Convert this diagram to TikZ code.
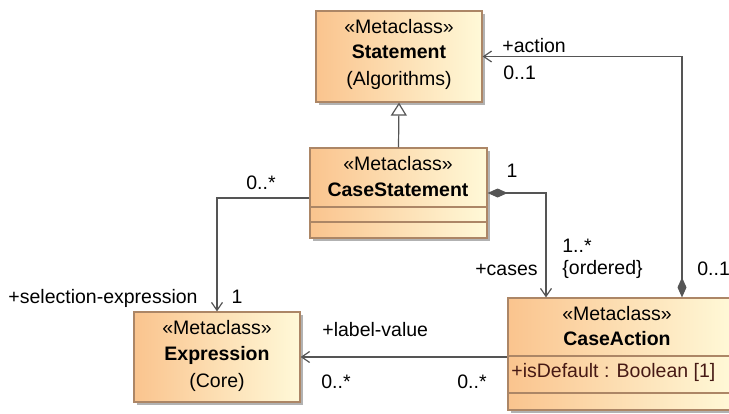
\documentclass[tikz,border=0pt]{standalone}
\usepackage{fontspec}
\setmainfont{Liberation Sans}
\usetikzlibrary{arrows.meta,shadows}
\definecolor{mdorange}{RGB}{250,196,142}
\definecolor{mdcream}{RGB}{255,249,216}
\definecolor{mdborder}{RGB}{172,134,102}
\definecolor{mdline}{RGB}{85,85,85}
\definecolor{mdattr}{RGB}{70,25,20}
\begin{document}
\begin{tikzpicture}[x=0.5pt,y=-0.5pt,
    every node/.style={font=\fontsize{9.75}{11}\selectfont,inner sep=0pt,text height=7pt,text depth=2pt},
    metaclass/.style={draw=mdborder,line width=0.6pt,left color=mdorange,right color=mdcream,
        drop shadow={shadow xshift=1.5pt,shadow yshift=-1.5pt,fill=black!30,opacity=1}},
    assoc/.style={draw=mdline,line width=0.6pt},
    barb/.style={-{Straight Barb[length=4pt,width=5.5pt]}},
    compose/.style={{Diamond[length=10pt,width=4.5pt]}-{Straight Barb[length=4pt,width=5.5pt]}},
    general/.style={-{Triangle[open,length=6.5pt,width=8pt,fill=white]}}]
    \useasboundingbox (0,0) rectangle (729,413);
    \clip (0,0) rectangle (729,413);
    % classes
    \node[metaclass,minimum width=83pt,minimum height=45.5pt] (statement) at (399,56.5) {};
    \node[metaclass,minimum width=88.5pt,minimum height=45pt] (casestmt) at (398.5,193) {};
    \node[metaclass,minimum width=83pt,minimum height=45pt] (expression) at (217,357) {};
    \node[metaclass,minimum width=113pt,minimum height=56pt] (caseaction) at (621,354) {};
    % compartments
    \draw[mdborder,line width=0.6pt] (casestmt.west |- 0,207) -- (casestmt.east |- 0,207);
    \draw[mdborder,line width=0.6pt] (casestmt.west |- 0,222) -- (casestmt.east |- 0,222);
    \draw[mdborder,line width=0.6pt] (caseaction.west |- 0,356) -- (caseaction.east |- 0,356);
    \draw[mdborder,line width=0.6pt] (caseaction.west |- 0,393) -- (caseaction.east |- 0,393);
    % class texts
    \node (statement-st) at (399,28) {«Metaclass»};
    \node (statement-name) at (399,53) {\textbf{Statement}};
    \node (statement-pkg) at (399,80) {(Algorithms)};
    \node (casestmt-st) at (398,165) {«Metaclass»};
    \node (casestmt-name) at (398,191) {\textbf{CaseStatement}};
    \node (expression-st) at (217,329) {«Metaclass»};
    \node (expression-name) at (217,355) {\textbf{Expression}};
    \node (expression-pkg) at (217,382) {(Core)};
    \node (caseaction-st) at (617,315) {«Metaclass»};
    \node (caseaction-name) at (617,340) {\textbf{CaseAction}};
    \node[anchor=west,text=mdattr] (caseaction-attr) at (511,372) {+isDefault : Boolean [1]};
    % connectors
    \coordinate (casesx) at (546,0);
    \coordinate (actionx) at (682,0);
    \draw[assoc,general] (casestmt.north) -- (statement.south);
    \draw[assoc,compose] (caseaction.north -| actionx) |- (statement.east);
    \draw[assoc,compose] (casestmt.east) -| (casesx |- caseaction.north);
    \draw[assoc,barb] ([yshift=-2.5pt]casestmt.west) -| (expression.north);
    \draw[assoc,barb] (expression.east -| caseaction.west) -- (expression.east);
    % ends
    \node[anchor=west] (action-role) at (502,47) {+action};
    \node[anchor=west] (action-mult) at (503,74) {0..1};
    \node[anchor=west] (action-owner) at (697,270) {0..1};
    \node (cases-owner) at (512,172) {1};
    \node[anchor=west] (cases-mult) at (562,247) {1..*};
    \node[anchor=west] (cases-order) at (562,269) {\{ordered\}};
    \node[anchor=east] (cases-role) at (538,270) {+cases};
    \node (sel-owner) at (261,184) {0..*};
    \node[anchor=east] (sel-role) at (198,298) {+selection-expression};
    \node (sel-mult) at (237,298) {1};
    \node[anchor=west] (label-role) at (322,331) {+label-value};
    \node[anchor=west] (label-mult) at (321,383) {0..*};
    \node[anchor=west] (label-owner) at (457,383) {0..*};
\end{tikzpicture}
\end{document}
